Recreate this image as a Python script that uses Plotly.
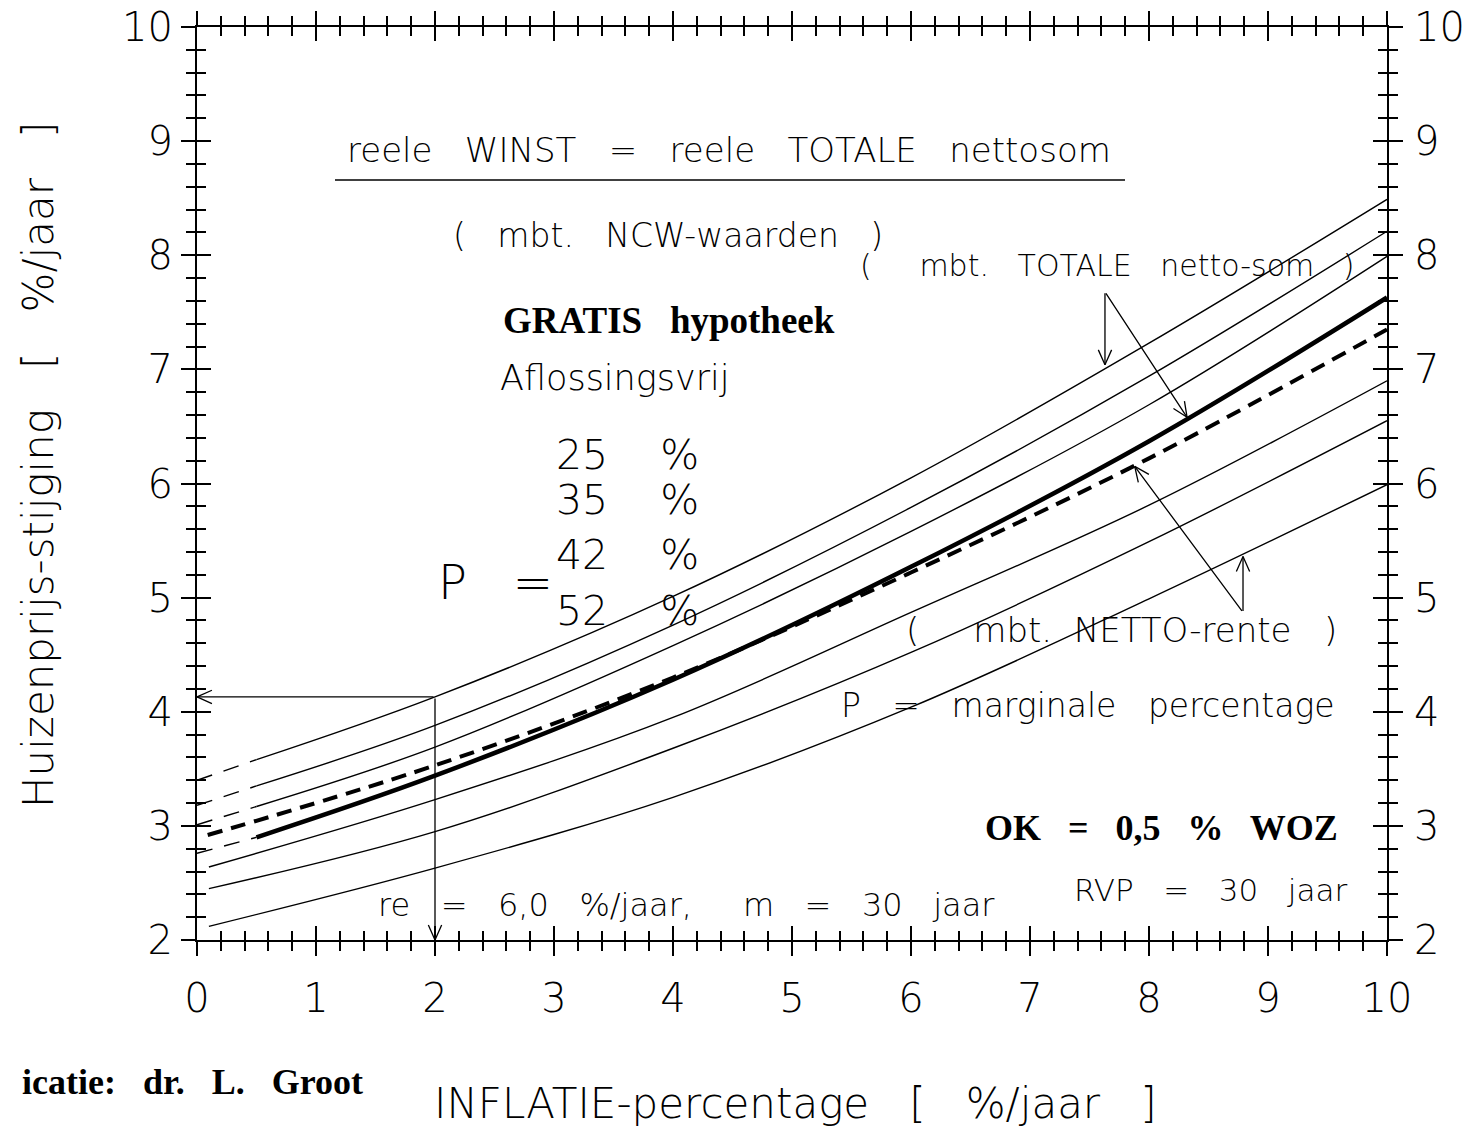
import math
import plotly.graph_objects as go

# ---------------- data ----------------
# solid parts of the curves
x_main = [0.5, 2, 4, 6, 8, 10]
A_y = [3.58, 4.13, 5.01, 6.05, 7.23, 8.49]
B_y = [3.35, 3.88, 4.76, 5.79, 6.94, 8.21]
C_y = [3.17, 3.69, 4.58, 5.58, 6.69, 7.99]
thick_y = [2.90, 3.44, 4.28, 5.27, 6.37, 7.63]

# thin dashed lead-in parts (x from 0 to 0.5)
x_lead = [0, 0.5]
A_lead = [3.40, 3.58]
B_lead = [3.18, 3.35]
C_lead = [3.01, 3.17]
thick_lead = [2.76, 2.90]

# thick dashed curve
x_dash = [0.09, 2, 4, 6, 8, 10]
dash_y = [2.92, 3.53, 4.30, 5.22, 6.22, 7.35]

# lower thin curves
x_low = [0.1, 2, 4, 6, 8, 10]
E_y = [2.64, 3.23, 3.95, 4.87, 5.81, 6.90]
F_y = [2.45, 2.95, 3.68, 4.52, 5.49, 6.55]
G_y = [2.12, 2.63, 3.25, 4.04, 4.99, 5.99]

x_ticks = list(range(0, 11))
y_ticks = list(range(2, 11))

# ---------------- figure ----------------
W, H = 1476, 1126
OFF = 8  # page offset of the figure inside the browser window
L, R, T, B = 197 - OFF, 89 + OFF, 27 - OFF, 186 + OFF
PW, PH = W - L - R, H - T - B
XR, YR = (0, 10), (2, 10)
SX, SY = PW / (XR[1] - XR[0]), PH / (YR[1] - YR[0])

LIGHT = dict(family="DejaVu Sans", color="black", weight=200)
SERIF_B = dict(family="Liberation Serif", color="black", weight="bold")


def px(x):
    return (x - OFF - L) / PW


def py(y):
    return (H - B - (y - OFF)) / PH


fig = go.Figure()

thin = dict(color="black", width=1.4)
for ys in (A_y, B_y, C_y, E_y, F_y, G_y):
    xs = x_main if ys in (A_y, B_y, C_y) else x_low
    fig.add_trace(go.Scatter(x=xs, y=ys, mode="lines", line=dict(thin, shape="spline"),
                             hoverinfo="skip"))
for ys in (A_lead, B_lead, C_lead, thick_lead):
    fig.add_trace(go.Scatter(x=x_lead, y=ys, mode="lines",
                             line=dict(color="black", width=1.4, dash="16px,12px"),
                             hoverinfo="skip"))
fig.add_trace(go.Scatter(x=x_main, y=thick_y, mode="lines",
                         line=dict(color="black", width=4.5, shape="spline"), hoverinfo="skip"))
fig.add_trace(go.Scatter(x=x_dash, y=dash_y, mode="lines",
                         line=dict(color="black", width=4, shape="spline", dash="15px,9px"),
                         hoverinfo="skip"))
# carrier for the secondary (tick-crossing) axes
fig.add_trace(go.Scatter(x=[None], y=[None], xaxis="x2", yaxis="y2", hoverinfo="skip"))

axis_common = dict(showgrid=False, zeroline=False, tickcolor="black", tickwidth=1.5,
                   automargin=False, ticklabeloverflow="allow")

fig.update_layout(
    width=W, height=H, margin=dict(l=L, r=R, t=T, b=B),
    paper_bgcolor="white", plot_bgcolor="white", showlegend=False,
    xaxis=dict(axis_common, range=list(XR), tickvals=x_ticks, ticks="outside", ticklen=14,
               minor=dict(dtick=0.2, ticks="outside", ticklen=9, tickcolor="black", tickwidth=1.5),
               showline=True, linecolor="black", linewidth=2, mirror="allticks",
               tickfont=dict(LIGHT, size=40), ticklabelstandoff=8),
    xaxis2=dict(axis_common, range=list(XR), overlaying="x", side="top", tickvals=x_ticks,
                ticks="inside", ticklen=14, showticklabels=False,
                minor=dict(dtick=0.2, ticks="inside", ticklen=9, tickcolor="black", tickwidth=1.5),
                showline=False, mirror="allticks"),
    yaxis=dict(axis_common, range=list(YR), tickvals=y_ticks, ticks="outside", ticklen=14,
               minor=dict(dtick=0.2, ticks="outside", ticklen=9, tickcolor="black", tickwidth=1.5),
               showline=True, linecolor="black", linewidth=2, mirror="allticks",
               tickfont=dict(LIGHT, size=40), ticklabelstandoff=0),
    yaxis2=dict(axis_common, range=list(YR), overlaying="y", side="right", tickvals=y_ticks,
                ticks="inside", ticklen=14, showticklabels=True,
                minor=dict(dtick=0.2, ticks="inside", ticklen=9, tickcolor="black", tickwidth=1.5),
                showline=False, mirror="allticks",
                tickfont=dict(LIGHT, size=40), ticklabelstandoff=26),
)

# underline of the title
fig.add_shape(type="line", xref="paper", yref="paper", x0=px(335), x1=px(1125),
              y0=py(180), y1=py(180), line=dict(color="black", width=1.5))

texts = [
    ("reele   WINST   =   reele   TOTALE   nettosom", 729, 150, LIGHT, 34, "center"),
    ("(   mbt.   NCW-waarden   )", 668, 235, LIGHT, 33, "center"),
    ("(     mbt.   TOTALE   netto-som   )", 1107, 265, LIGHT, 30, "center"),
    ("GRATIS   hypotheek", 669, 320, SERIF_B, 37, "center"),
    ("Aflossingsvrij", 615, 378, LIGHT, 35, "center"),
    ("25    %", 627, 455, LIGHT, 41, "center"),
    ("35    %", 627, 500, LIGHT, 41, "center"),
    ("42    %", 627, 555, LIGHT, 41, "center"),
    ("52    %", 627, 611, LIGHT, 41, "center"),
    ("P   =", 495, 582, LIGHT, 48, "center"),
    ("(     mbt.  NETTO-rente   )", 1121, 630, LIGHT, 34, "center"),
    ("P   =   marginale   percentage", 1088, 705, LIGHT, 33, "center"),
    ("OK   =   0,5   %   WOZ", 1161, 828, SERIF_B, 36, "center"),
    ("RVP   =   30   jaar", 1210, 890, LIGHT, 31, "center"),
    ("re   =   6,0   %/jaar,     m   =   30   jaar", 686, 905, LIGHT, 32, "center"),
    ("icatie:   dr.   L.   Groot", 365, 1082, SERIF_B, 36, "right"),
    ("INFLATIE-percentage   [   %/jaar   ]", 795, 1103, LIGHT, 42, "center"),
]
for txt, x, y, fnt, size, anchor in texts:
    fig.add_annotation(text=txt, xref="paper", yref="paper", x=px(x), y=py(y),
                       xanchor=anchor, yanchor="middle", showarrow=False,
                       font=dict(fnt, size=size))

fig.add_annotation(text="Huizenprijs-stijging   [   %/jaar   ]", xref="paper", yref="paper",
                   x=px(38), y=py(465), xanchor="center", yanchor="middle", textangle=-90,
                   showarrow=False, font=dict(LIGHT, size=42))

# arrows (head -> tail), in data coordinates; heads drawn as open V's
arrows = [
    ((0, A_y[1]), (2, A_y[1])),
    ((2, 2.0), (2, A_y[1])),
    ((7.63, 7.04), (7.63, 7.68)),
    ((8.32, 6.58), (7.63, 7.68)),
    ((7.88, 6.15), (8.79, 4.87)),
    ((8.79, 5.36), (8.79, 4.87)),
]
HEAD_LEN, HEAD_ANG = 18, math.radians(24)
for (hx, hy), (tx, ty) in arrows:
    fig.add_annotation(x=hx, y=hy, ax=tx, ay=ty, xref="x", yref="y", axref="x", ayref="y",
                       text="", showarrow=True, arrowhead=0, arrowwidth=1.3,
                       arrowcolor="black", standoff=0, startstandoff=0)
    # direction from head to tail in screen pixels (y downward)
    dx, dy = (tx - hx) * SX, -(ty - hy) * SY
    n = math.hypot(dx, dy)
    ux, uy = dx / n, dy / n
    for s in (1, -1):
        c, si = math.cos(s * HEAD_ANG), math.sin(s * HEAD_ANG)
        rx, ry = ux * c - uy * si, ux * si + uy * c
        fig.add_annotation(x=hx, y=hy, xref="x", yref="y", ax=rx * HEAD_LEN, ay=ry * HEAD_LEN,
                           text="", showarrow=True, arrowhead=0, arrowwidth=1.3,
                           arrowcolor="black", standoff=0, startstandoff=0)

fig.write_html("out.html")
